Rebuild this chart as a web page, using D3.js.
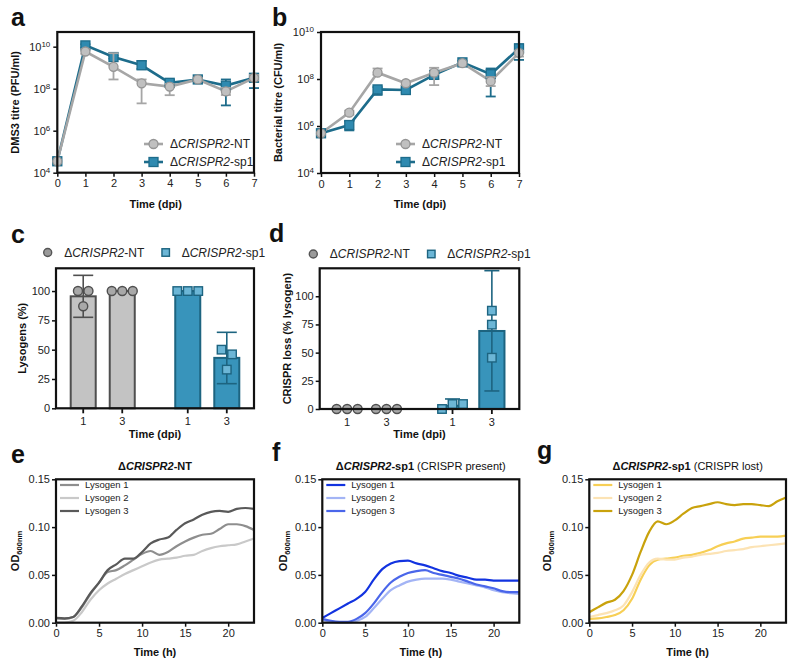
<!DOCTYPE html>
<html><head><meta charset="utf-8">
<script src="https://cdn.jsdelivr.net/npm/d3@7"></script>
<style>
body{margin:0;background:#fff;}
svg{font-family:"Liberation Sans",Arial,sans-serif;}
</style></head><body>
<svg id="fig" width="800" height="667"></svg>
<script>
// ================= DATA =================
// Panels a,b: days post infection
const dpiDays = [0, 1, 2, 3, 4, 5, 6, 7];
// a: DMS3 titre (PFU/ml)
const phageNT      = [3.5e4, 5.9e9, 1.1e9, 1.8e8, 1.26e8, 2.75e8, 7.4e7, 3.3e8];
const phageNTLow   = [null, 4.5e9, 2.75e8, 2.0e7, 4.9e7, 2.4e8, 5.0e7, 2.5e8];
const phageNTHigh  = [null, 7.5e9, 4.9e9, 2.75e8, 1.7e8, 3.2e8, 1.1e8, 4.5e8];
const phageSp1     = [3.5e4, 1.15e10, 3.2e9, 1.3e9, 1.9e8, 2.75e8, 1.4e8, 3.3e8];
const phageSp1Low  = [null, 9.0e9, 2.7e9, 8.7e8, 1.4e8, 2.4e8, 1.6e7, 1.07e8];
const phageSp1High = [null, 1.3e10, 3.7e9, 2.1e9, 2.6e8, 3.2e8, 2.75e8, 4.8e8];
// b: Bacterial titre (CFU/ml)
const bactNT      = [4.9e5, 3.7e6, 1.86e8, 6.6e7, 1.86e8, 4.7e8, 8.1e7, 1.3e9];
const bactNTLow   = [null, 3.0e6, 1.5e8, 5.5e7, 5.5e7, null, 5.0e7, 9.0e8];
const bactNTHigh  = [null, 4.5e6, 2.8e8, 7.5e7, 3.0e8, null, 1.2e8, 1.6e9];
const bactSp1     = [4.9e5, 1.1e6, 3.6e7, 3.4e7, 1.5e8, 5.1e8, 1.6e8, 2.0e9];
const bactSp1Low  = [null, 6.5e5, 2.1e7, 2.6e7, 1.0e8, 4.5e8, 1.8e7, 6.5e8];
const bactSp1High = [null, 1.6e6, 4.5e7, 4.2e7, 2.0e8, 5.8e8, 2.8e8, 3.0e9];
const logTicks = [1e4, 1e6, 1e8, 1e10];

// Panels c,d: strain groups x sampling day
const strainGroups = ["NT", "sp1"];
const sampleDays = ["1", "3"];
// order: NT-1, NT-3, sp1-1, sp1-3
const lysogenMean = [95.5, 100, 100, 43];
const lysogenLow  = [77.6, null, null, 21];
const lysogenHigh = [113.4, null, null, 64.8];
const lysogenReps = [[100, 100, 87], [100, 100, 100], [100, 100, 100], [50, 46, 33]];
const lossMean = [0, 0, 2.9, 69.2];
const lossLow  = [null, null, 0, 16];
const lossHigh = [null, null, 8.9, 122.7];
const lossReps = [[0, 0, 0], [0, 0, 0], [0, 4.4, 4.4], [87.2, 74.8, 45.5]];
const pctTicks = [0, 25, 50, 75, 100];

// Panels e,f,g: growth curves, OD600 per hour
const odHours = [0,1,2,3,4,5,6,7,8,9,10,11,12,13,14,15,16,17,18,19,20,21,22,23];
const ntLys1 = [0.0045,0.004,0.006,0.016,0.030,0.042,0.053,0.055,0.060,0.066,0.072,0.075,0.071,0.074,0.080,0.085,0.089,0.092,0.093,0.098,0.103,0.103,0.101,0.097];
const ntLys2 = [0.000,0.000,0.002,0.011,0.024,0.034,0.041,0.046,0.051,0.055,0.059,0.063,0.066,0.067,0.068,0.070,0.071,0.075,0.078,0.080,0.081,0.082,0.085,0.088];
const ntLys3 = [0.005,0.0045,0.006,0.017,0.031,0.042,0.055,0.061,0.067,0.067,0.074,0.083,0.087,0.089,0.097,0.104,0.108,0.113,0.116,0.117,0.116,0.119,0.120,0.119];
const presLys1 = [0.005,0.010,0.015,0.020,0.025,0.032,0.045,0.056,0.062,0.0645,0.065,0.062,0.060,0.057,0.054,0.052,0.049,0.047,0.045,0.045,0.044,0.044,0.044,0.044];
const presLys2 = [0.003,0.001,0.000,0.000,0.002,0.006,0.015,0.025,0.034,0.039,0.043,0.045,0.046,0.046,0.046,0.045,0.043,0.041,0.039,0.037,0.034,0.032,0.031,0.030];
const presLys3 = [0.004,0.002,0.001,0.001,0.004,0.010,0.020,0.032,0.042,0.048,0.052,0.054,0.055,0.052,0.050,0.048,0.046,0.043,0.040,0.038,0.036,0.033,0.032,0.032];
const lostLys1 = [0.004,0.0045,0.006,0.008,0.013,0.025,0.045,0.060,0.066,0.067,0.068,0.070,0.071,0.073,0.076,0.080,0.083,0.085,0.088,0.089,0.090,0.090,0.090,0.091];
const lostLys2 = [0.006,0.008,0.010,0.013,0.018,0.032,0.050,0.063,0.067,0.066,0.066,0.068,0.069,0.071,0.072,0.073,0.075,0.076,0.077,0.079,0.080,0.081,0.082,0.083];
const lostLys3 = [0.011,0.016,0.021,0.024,0.033,0.050,0.074,0.095,0.106,0.103,0.107,0.114,0.120,0.122,0.124,0.126,0.124,0.123,0.124,0.124,0.123,0.122,0.127,0.131];
const lysogenNames = ["Lysogen 1", "Lysogen 2", "Lysogen 3"];
const odTicks = [0, 0.05, 0.10, 0.15];
const hourTicks = [0, 5, 10, 15, 20];

// ================= DRAWING =================
const svg = d3.select("#fig");
const FONT = '"Liberation Sans", Arial, sans-serif';
const INK = "#111";
const GREY_LINE = "#a6a6a6", GREY_FILL = "#c0c0c0", GREY_STROKE = "#959595";
const TEAL_LINE = "#1d6c8b", TEAL_FILL = "#2f8ab0";

function styleAxis(g) {
  g.select(".domain").remove();
  g.selectAll(".tick line").attr("stroke", INK).attr("stroke-width", 1.5);
  g.selectAll(".tick text").attr("fill", "#222").style("font-size", "11px").style("font-family", FONT);
}
function frame(x0, x1, y0, y1) {
  svg.append("rect").attr("x", x0).attr("y", y0).attr("width", x1 - x0).attr("height", y1 - y0)
    .attr("fill", "none").attr("stroke", INK).attr("stroke-width", 2.2);
}
function letter(t, x, y) {
  svg.append("text").attr("x", x).attr("y", y).text(t)
    .style("font-size", "25px").style("font-weight", "bold").attr("fill", "#111");
}
function yLabel(cx, cy, t) {
  svg.append("text").attr("transform", `translate(${cx},${cy}) rotate(-90)`)
    .attr("text-anchor", "middle").attr("dy", "0.35em").text(t)
    .style("font-size", "11px").style("font-weight", "bold").attr("fill", "#111");
}
function xLabel(cx, y, t) {
  svg.append("text").attr("x", cx).attr("y", y).attr("text-anchor", "middle").text(t)
    .style("font-size", "11px").style("font-weight", "bold").attr("fill", "#111");
}
function strainText(sel, suffix, opts) {
  opts = opts || {};
  sel.append("tspan").text("Δ").style("font-weight", opts.bold ? "bold" : null);
  sel.append("tspan").text("CRISPR2").style("font-style", "italic").style("font-weight", opts.bold ? "bold" : null);
  sel.append("tspan").text(suffix).style("font-weight", opts.bold ? "bold" : null);
}
function marker(g, type, cx, cy, size, fill, stroke, sw) {
  if (type === "circle") {
    g.append("circle").attr("cx", cx).attr("cy", cy).attr("r", size / 2)
      .attr("fill", fill).attr("stroke", stroke).attr("stroke-width", sw);
  } else {
    g.append("rect").attr("x", cx - size / 2).attr("y", cy - size / 2).attr("width", size).attr("height", size)
      .attr("fill", fill).attr("stroke", stroke).attr("stroke-width", sw);
  }
}

// ---------- panels a, b ----------
function titrePanel(o) {
  const x = d3.scaleLinear().domain([0, 7]).range([o.x0, o.x1]);
  const y = d3.scaleLog().domain(o.yDomain).range([o.y1, o.y0]);
  const gx = svg.append("g").attr("transform", `translate(0,${o.y1})`)
    .call(d3.axisBottom(x).tickValues(dpiDays).tickSize(4).tickPadding(3).tickFormat(d3.format("d")));
  styleAxis(gx);
  const gy = svg.append("g").attr("transform", `translate(${o.x0},0)`)
    .call(d3.axisLeft(y).tickValues(logTicks).tickSize(4).tickPadding(3));
  styleAxis(gy);
  gy.selectAll(".tick text").text(null).each(function (d) {
    const t = d3.select(this);
    t.append("tspan").text("10");
    t.append("tspan").attr("dy", "-0.45em").style("font-size", "8px").text(Math.round(Math.log10(d)));
  });
  const series = [
    { v: o.sp, lo: o.spLo, hi: o.spHi, line: TEAL_LINE, fill: TEAL_FILL, stroke: TEAL_LINE, type: "rect", size: 9 },
    { v: o.nt, lo: o.ntLo, hi: o.ntHi, line: GREY_LINE, fill: GREY_FILL, stroke: GREY_STROKE, type: "circle", size: 9 }
  ];
  const line = d3.line().x((d, i) => x(dpiDays[i])).y(d => y(d));
  series.forEach(s => {
    svg.append("path").datum(s.v).attr("d", line).attr("fill", "none")
      .attr("stroke", s.line).attr("stroke-width", 2.6);
  });
  series.forEach(s => {
    const g = svg.append("g");
    s.v.forEach((v, i) => {
      if (s.lo[i] != null) {
        const cx = x(dpiDays[i]);
        g.append("line").attr("x1", cx).attr("x2", cx).attr("y1", y(s.lo[i])).attr("y2", y(s.hi[i]))
          .attr("stroke", s.line).attr("stroke-width", 1.8);
        [s.lo[i], s.hi[i]].forEach(e => g.append("line").attr("x1", cx - 5).attr("x2", cx + 5)
          .attr("y1", y(e)).attr("y2", y(e)).attr("stroke", s.line).attr("stroke-width", 1.8));
      }
      marker(g, s.type, x(dpiDays[i]), y(v), s.size, s.fill, s.stroke, 1.3);
    });
  });
  frame(o.x0, o.x1, o.y0, o.y1);
  // legend
  const leg = [series[1], series[0]];
  const names = ["-NT", "-sp1"];
  leg.forEach((s, k) => {
    const ly = o.legY + k * 18;
    svg.append("line").attr("x1", o.legX).attr("x2", o.legX + 19).attr("y1", ly).attr("y2", ly)
      .attr("stroke", s.line).attr("stroke-width", 2.6);
    marker(svg, s.type, o.legX + 9.5, ly, s.size, s.fill, s.stroke, 1.3);
    const t = svg.append("text").attr("x", o.legX + 26).attr("y", ly).attr("dy", "0.36em")
      .style("font-size", "12px").attr("fill", "#222");
    strainText(t, names[k]);
  });
  yLabel(o.ylx, (o.y0 + o.y1) / 2, o.ylabel);
  xLabel((o.x0 + o.x1) / 2, 208, "Time (dpi)");
}

titrePanel({ x0: 57.3, x1: 254, y0: 32, y1: 172.7, yDomain: [1e4, 5e10],
  nt: phageNT, ntLo: phageNTLow, ntHi: phageNTHigh, sp: phageSp1, spLo: phageSp1Low, spHi: phageSp1High,
  legX: 144, legY: 144, ylx: 15, ylabel: "DMS3 titre (PFU/ml)" });
titrePanel({ x0: 321, x1: 519, y0: 32, y1: 173, yDomain: [1e4, 1e10],
  nt: bactNT, ntLo: bactNTLow, ntHi: bactNTHigh, sp: bactSp1, spLo: bactSp1Low, spHi: bactSp1High,
  legX: 396, legY: 144, ylx: 278, ylabel: "Bacterial titre (CFU/ml)" });
letter("a", 11, 26);
letter("b", 272, 26);

// ---------- panels c, d ----------
function barPanel(o) {
  const gxs = d3.scaleBand().domain(strainGroups).range([o.x0, o.x1]).paddingInner(0.3).paddingOuter(0.097);
  const dxs = d3.scaleBand().domain(sampleDays).range([0, gxs.bandwidth()]).paddingInner(0.359).paddingOuter(0.117);
  const y = d3.scaleLinear().domain(o.yDomain).range([o.y1, o.y0]);
  const cats = [];
  strainGroups.forEach(g => sampleDays.forEach(d => cats.push({ g, d })));
  const cx = c => gxs(c.g) + dxs(c.d) + dxs.bandwidth() / 2;
  const styles = {
    NT: { fill: "#c3c3c3", stroke: "#4f4f4f", ptFill: "#a8a8a8", type: "circle", size: 9 },
    sp1: { fill: "#3894bb", stroke: "#1d6480", ptFill: "#6cb6d6", type: "rect", size: 8.5 }
  };
  // axes
  const gyA = svg.append("g").attr("transform", `translate(${o.x0},0)`)
    .call(d3.axisLeft(y).tickValues(pctTicks).tickSize(4).tickPadding(2).tickFormat(d3.format("d")));
  styleAxis(gyA);
  const gxA = svg.append("g").attr("transform", `translate(0,${o.y1})`);
  cats.forEach(c => {
    gxA.append("line").attr("x1", cx(c)).attr("x2", cx(c)).attr("y1", 0).attr("y2", 5)
      .attr("stroke", INK).attr("stroke-width", 1.8);
    gxA.append("text").attr("x", cx(c)).attr("y", 17).attr("text-anchor", "middle").text(c.d)
      .style("font-size", "11px").attr("fill", "#222");
  });
  cats.forEach((c, i) => {
    const st = styles[c.g];
    const m = o.mean[i];
    if (m > 0) {
      svg.append("rect").attr("x", gxs(c.g) + dxs(c.d)).attr("width", dxs.bandwidth())
        .attr("y", y(m)).attr("height", y(0) - y(m))
        .attr("fill", st.fill).attr("stroke", st.stroke).attr("stroke-width", 2);
    }
    if (o.hi[i] != null) {
      const x = cx(c);
      svg.append("line").attr("x1", x).attr("x2", x).attr("y1", y(o.lo[i])).attr("y2", y(o.hi[i]))
        .attr("stroke", st.stroke).attr("stroke-width", 1.6);
      [o.lo[i], o.hi[i]].forEach(e => {
        if (e > 0) svg.append("line").attr("x1", x - o.cap).attr("x2", x + o.cap).attr("y1", y(e)).attr("y2", y(e))
          .attr("stroke", st.stroke).attr("stroke-width", 1.6);
      });
    }
  });
  // replicate points, spread horizontally when overlapping (keeping replicate order)
  cats.forEach((c, i) => {
    const st = styles[c.g];
    const pts = o.reps[i].map((v, idx) => ({ v, idx, py: y(v) })).sort((a, b) => a.v - b.v);
    const clusters = [];
    pts.forEach(p => {
      const last = clusters[clusters.length - 1];
      if (last && Math.abs(last[last.length - 1].py - p.py) < 9) last.push(p); else clusters.push([p]);
    });
    clusters.forEach(cl => {
      cl.sort((a, b) => a.idx - b.idx);
      cl.forEach((p, k) => {
        const off = (k - (cl.length - 1) / 2) * 10.5;
        marker(svg, st.type, cx(c) + off, p.py, st.size, st.ptFill, st.stroke, 1.4);
      });
    });
  });
  frame(o.x0, o.x1, o.y0, o.y1);
  // legend
  marker(svg, "circle", o.legX, o.legY, 8, "#9a9a9a", "#555", 1.4);
  let t = svg.append("text").attr("x", o.legX + 16.5).attr("y", o.legY).attr("dy", "0.36em")
    .style("font-size", "12px").attr("fill", "#222");
  strainText(t, "-NT");
  marker(svg, "rect", o.legX + 118, o.legY, 7.5, "#6cb6d6", "#1d6480", 1.4);
  t = svg.append("text").attr("x", o.legX + 134).attr("y", o.legY).attr("dy", "0.36em")
    .style("font-size", "12px").attr("fill", "#222");
  strainText(t, "-sp1");
  yLabel(o.ylx, (o.y0 + o.y1) / 2, o.ylabel);
  xLabel((o.x0 + o.x1) / 2, 437.5, "Time (dpi)");
}

barPanel({ x0: 56, x1: 254, y0: 268.3, y1: 408.3, yDomain: [0, 119.4],
  mean: lysogenMean, lo: lysogenLow, hi: lysogenHigh, reps: lysogenReps, cap: 10,
  legX: 47.7, legY: 252.5, ylx: 21.7, ylabel: "Lysogens (%)" });
barPanel({ x0: 319.7, x1: 519.3, y0: 268.3, y1: 409, yDomain: [0, 124.8],
  mean: lossMean, lo: lossLow, hi: lossHigh, reps: lossReps, cap: 7.5,
  legX: 313.3, legY: 254, ylx: 287.3, ylabel: "CRISPR loss (% lysogen)" });
letter("c", 11, 243);
letter("d", 269, 242);

// ---------- panels e, f, g ----------
function odPanel(o) {
  const x = d3.scaleLinear().domain([0, 23]).range([o.x0, o.x1]);
  const y = d3.scaleLinear().domain([0, 0.15]).range([o.y1, o.y0]);
  const gx = svg.append("g").attr("transform", `translate(0,${o.y1})`)
    .call(d3.axisBottom(x).tickValues(hourTicks).tickSize(4).tickPadding(3).tickFormat(d3.format("d")));
  styleAxis(gx);
  const gy = svg.append("g").attr("transform", `translate(${o.x0},0)`)
    .call(d3.axisLeft(y).tickValues(odTicks).tickSize(4).tickPadding(2).tickFormat(d3.format(".2f")));
  styleAxis(gy);
  const line = d3.line().x((d, i) => x(odHours[i])).y(d => y(d)).curve(d3.curveMonotoneX);
  o.series.forEach((s, k) => {
    svg.append("path").datum(s).attr("d", line).attr("fill", "none")
      .attr("stroke", o.colors[k]).attr("stroke-width", 2.2);
  });
  frame(o.x0, o.x1, o.y0, o.y1);
  lysogenNames.forEach((n, k) => {
    const ly = 485 + k * 13;
    svg.append("line").attr("x1", o.x0 + 4).attr("x2", o.x0 + 23).attr("y1", ly).attr("y2", ly)
      .attr("stroke", o.colors[k]).attr("stroke-width", 2.2);
    svg.append("text").attr("x", o.x0 + 29).attr("y", ly).attr("dy", "0.36em").text(n)
      .style("font-size", "9.5px").attr("fill", "#222");
  });
  const tt = svg.append("text").attr("x", (o.x0 + o.x1) / 2).attr("y", 470).attr("text-anchor", "middle")
    .style("font-size", "11px").attr("fill", "#111");
  strainText(tt, o.suffix, { bold: true });
  if (o.extra) tt.append("tspan").text(o.extra);
  // y label OD600nm
  const yl = svg.append("text").attr("transform", `translate(${o.ylx},${(o.y0 + o.y1) / 2}) rotate(-90)`)
    .attr("text-anchor", "middle").attr("dy", "0.35em").attr("fill", "#111");
  yl.append("tspan").text("OD").style("font-size", "11px").style("font-weight", "bold");
  yl.append("tspan").text("600nm").attr("dy", "3").style("font-size", "7.5px").style("font-weight", "bold");
  xLabel((o.x0 + o.x1) / 2, 656, "Time (h)");
}

odPanel({ x0: 56, x1: 254, y0: 479.3, y1: 622.7, series: [ntLys1, ntLys2, ntLys3],
  colors: ["#8e8e8e", "#c9c9c9", "#595959"], suffix: "-NT", extra: null, ylx: 13 });
odPanel({ x0: 322.3, x1: 519.3, y0: 479.3, y1: 622.7, series: [presLys1, presLys2, presLys3],
  colors: ["#1233e0", "#a3b4f5", "#4a66ea"], suffix: "-sp1", extra: " (CRISPR present)", ylx: 281 });
odPanel({ x0: 589.3, x1: 786, y0: 479.3, y1: 622.7, series: [lostLys1, lostLys2, lostLys3],
  colors: ["#f7cf55", "#fce3b4", "#c9a20c"], suffix: "-sp1", extra: " (CRISPR lost)", ylx: 545 });
letter("e", 11, 463);
letter("f", 272, 461);
letter("g", 537, 459);
</script>
</body></html>
